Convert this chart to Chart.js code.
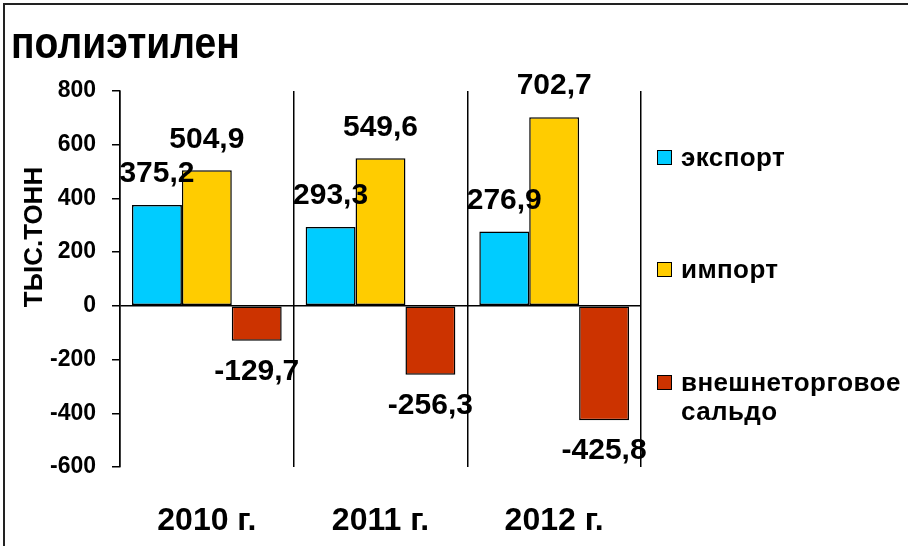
<!DOCTYPE html>
<html lang="ru">
<head>
<meta charset="utf-8">
<title>полиэтилен</title>
<script src="https://cdn.jsdelivr.net/npm/chart.js@4.4.1/dist/chart.umd.min.js"></script>
<style>
  html, body { margin: 0; padding: 0; background: #fff; overflow: hidden; }
  #wrap { position: relative; width: 908px; height: 546px; font-family: "Liberation Sans", Arial, sans-serif; }
  #frame { position: absolute; left: 3px; top: 3px; right: 0; bottom: 0; border-top: 2px solid #222; border-left: 2px solid #222; pointer-events: none; }
  .leg { position: absolute; left: 657px; font-weight: bold; font-size: 26px; line-height: 29px; color: #000; white-space: nowrap; }
  .leg i { position: absolute; left: 0; top: 7px; width: 13px; height: 13px; border: 1.5px solid #000; }
  .leg span { display: block; margin-left: 24px; letter-spacing: 0.4px; }
</style>
</head>
<body>
<div id="wrap">
  <canvas id="chart" width="908" height="546"></canvas>
  <div id="frame"></div>
</div>
<script>
document.addEventListener('DOMContentLoaded', function() {
    // Data
    const years = ['2010 г.', '2011 г.', '2012 г.'];
    const exportValues = [375.2, 293.3, 276.9];
    const importValues = [504.9, 549.6, 702.7];
    const balanceValues = [-129.7, -256.3, -425.8];
    const seriesNames = ['экспорт', 'импорт', 'внешнеторговое\nсальдо'];
    const seriesColors = ['#00CCFF', '#FFCC00', '#CC3300'];
    const chartTitle = 'полиэтилен';
    const axisTitle = 'ТЫС.ТОНН';

    const fontFamily = '"Liberation Sans", Arial, sans-serif';

    // title, y-axis title and value labels
    const textPlugin = {
        id: 'textPlugin',
        afterDatasetsDraw(chart) {
            const ctx = chart.ctx;
            ctx.save();
            ctx.fillStyle = '#000';

            ctx.save();
            ctx.translate(11, 46);
            ctx.scale(1, 1.15);
            ctx.font = 'bold 39px ' + fontFamily;
            ctx.textAlign = 'left';
            ctx.textBaseline = 'middle';
            ctx.fillText(chartTitle, 0, 0);
            ctx.restore();

            ctx.save();
            ctx.translate(35, 237);
            ctx.rotate(-Math.PI / 2);
            ctx.font = 'bold 26px ' + fontFamily;
            ctx.textAlign = 'center';
            ctx.textBaseline = 'middle';
            ctx.fillText(axisTitle, 0, 0);
            ctx.restore();

            ctx.font = 'bold 30px ' + fontFamily;
            ctx.textAlign = 'center';
            ctx.textBaseline = 'middle';
            chart.data.datasets.forEach(function(ds, i) {
                const meta = chart.getDatasetMeta(i);
                meta.data.forEach(function(bar, j) {
                    const v = ds.data[j];
                    const txt = v.toFixed(1).replace('.', ',');
                    const y = v >= 0 ? bar.y - 31 : bar.y + 31;
                    ctx.fillText(txt, bar.x, y);
                });
            });
            ctx.restore();
        }
    };

    const ctx = document.getElementById('chart').getContext('2d');
    new Chart(ctx, {
        type: 'bar',
        data: {
            labels: years,
            datasets: [
                { label: seriesNames[0], data: exportValues, backgroundColor: seriesColors[0] },
                { label: seriesNames[1], data: importValues, backgroundColor: seriesColors[1] },
                { label: seriesNames[2], data: balanceValues, backgroundColor: seriesColors[2] }
            ].map(function(ds) {
                ds.borderColor = '#000';
                ds.borderWidth = 1.5;
                ds.borderSkipped = false;
                ds.categoryPercentage = 0.862;
                ds.barPercentage = 1.0;
                return ds;
            })
        },
        options: {
            responsive: false,
            animation: false,
            layout: { padding: { top: 91, right: 267, left: 0, bottom: 0 } },
            plugins: {
                legend: { display: false },
                title: { display: false },
                tooltip: { enabled: false }
            },
            scales: {
                x: {
                    grid: { color: '#000', lineWidth: 1.5, drawTicks: false, offset: true },
                    border: { display: false },
                    ticks: { color: '#000', padding: 35, font: { family: fontFamily, size: 32, weight: 'bold' } },
                    afterFit: function(scale) { scale.height = 79; }
                },
                y: {
                    min: -600,
                    max: 800,
                    ticks: {
                        stepSize: 200,
                        color: '#000',
                        padding: 16,
                        font: { family: fontFamily, size: 23, weight: 'bold' },
                        callback: function(v) { return String(v); }
                    },
                    grid: {
                        color: function(c) { return c.tick && c.tick.value === 0 ? '#000' : 'rgba(0,0,0,0)'; },
                        lineWidth: 1.5,
                        tickColor: '#000',
                        tickLength: 8
                    },
                    border: { display: true, color: '#000', width: 1.5 },
                    afterFit: function(scale) { scale.width = 120; }
                }
            }
        },
        plugins: [textPlugin]
    });

    // legend
    const wrap = document.getElementById('wrap');
    const legendTops = [143, 255, 368];
    seriesNames.forEach(function(name, i) {
        const item = document.createElement('div');
        item.className = 'leg';
        item.style.top = legendTops[i] + 'px';
        const box = document.createElement('i');
        box.style.background = seriesColors[i];
        item.appendChild(box);
        name.split('\n').forEach(function(line) {
            const s = document.createElement('span');
            s.textContent = line;
            item.appendChild(s);
        });
        wrap.appendChild(item);
    });
});
</script>
</body>
</html>
